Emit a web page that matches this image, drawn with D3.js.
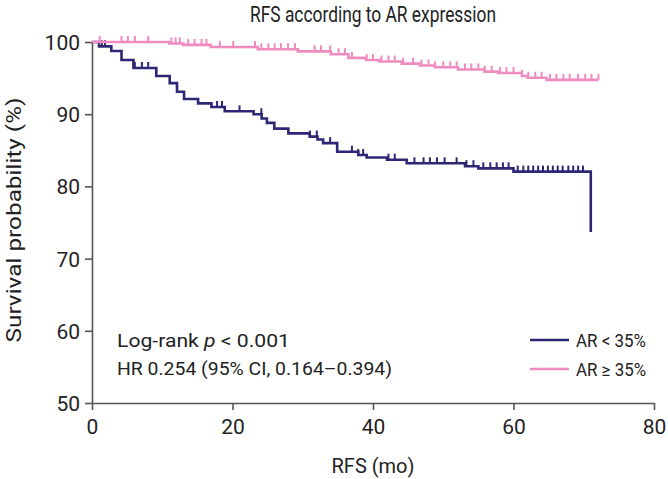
<!DOCTYPE html>
<html><head><meta charset="utf-8">
<script src="https://cdn.jsdelivr.net/npm/d3@7"></script>
<style>body{margin:0;background:#fff}svg text{font-family:"Roboto",sans-serif;fill:#222}</style>
</head><body><svg id="c" width="668" height="479"></svg>
<script>
// ---- data ----
const xTicks = [0, 20, 40, 60, 80];
const yTicks = [50, 60, 70, 80, 90, 100];
const seriesNames = ["AR < 35%", "AR \u2265 35%"];
const seriesColors = ["#2d2875", "#ef8cbf"];
// AR < 35% : step times (mo) and survival (%)
const lowTimes = [0, 1.0, 2.75, 4.2, 5.9, 9.15, 11.06, 12.1, 13.1, 15.1, 17.0, 18.9, 23.0, 24.15, 24.9, 25.95, 27.95, 31.0, 32.1, 32.9, 34.9, 37.9, 39.1, 42.0, 44.8, 53.1, 55.0, 60.0, 71.0];
const lowSurv  = [100, 99.4, 98.75, 97.5, 96.4, 95.3, 94.3, 93.1, 92.1, 91.5, 91.0, 90.4, 90.0, 89.4, 88.8, 88.0, 87.35, 86.9, 86.5, 86.0, 84.8, 84.35, 84.0, 83.7, 83.2, 82.8, 82.5, 82.05, 73.7];
const lowCensor = [1.4, 1.85, 6.1, 7.1, 8.0, 17.8, 18.5, 21.0, 24.1, 31.0, 32.0, 33.9, 37.0, 37.9, 38.6, 42.2, 43.1, 45.9, 47.2, 48.1, 49.1, 50.2, 51.9, 53.3, 54.3, 55.7, 56.7, 57.6, 58.5, 59.3, 60.6, 61.4, 62.1, 62.8, 63.5, 64.2, 64.9, 65.6, 66.3, 67.0, 67.8, 68.5, 69.2, 69.9];
// AR >= 35%
const highTimes = [0, 11.0, 13.0, 16.9, 23.6, 29.3, 34.0, 36.5, 39.0, 40.9, 44.1, 46.7, 48.8, 52.1, 55.9, 57.8, 61.2, 62.0, 64.7, 72.1];
const highSurv  = [100, 99.8, 99.6, 99.3, 99.0, 98.7, 98.3, 97.8, 97.5, 97.3, 97.0, 96.75, 96.5, 96.2, 95.9, 95.7, 95.3, 95.05, 94.75, 94.75];
const highCensor = [1.1, 4.2, 5.1, 6.1, 8.0, 11.3, 11.9, 12.5, 13.7, 14.6, 15.6, 16.3, 18.2, 20.1, 23.2, 24.1, 25.1, 26.0, 26.9, 27.9, 28.9, 31.7, 32.6, 33.9, 35.1, 36.0, 37.0, 39.1, 40.0, 41.2, 42.2, 43.1, 44.3, 45.7, 46.9, 47.9, 48.8, 50.0, 51.0, 51.9, 53.1, 54.0, 55.0, 55.9, 56.9, 58.1, 59.0, 60.0, 61.2, 62.1, 63.1, 64.0, 65.2, 66.1, 67.1, 68.0, 69.2, 70.2, 71.1, 72.1];

// ---- drawing ----
const svg = d3.select("#c");
const x = d3.scaleLinear().domain([0, 80]).range([92, 654]);
const y = d3.scaleLinear().domain([50, 100]).range([403, 42]);
const axisColor = "#555";

const gx = svg.append("g").attr("transform", `translate(0,${y(50)})`)
  .call(d3.axisBottom(x).tickValues(xTicks).tickSize(7).tickPadding(9).tickSizeOuter(0));
const gy = svg.append("g").attr("transform", `translate(${x(0)},0)`)
  .call(d3.axisLeft(y).tickValues(yTicks).tickSize(7).tickPadding(5).tickSizeOuter(0));
[gx, gy].forEach(g => {
  g.select(".domain").attr("stroke", axisColor).attr("stroke-width", 1.6);
  g.selectAll(".tick line").attr("stroke", axisColor).attr("stroke-width", 1.6);
  g.selectAll(".tick text").attr("font-size", 21).attr("fill", "#222")
    .style("font-family", '"Roboto",sans-serif');
});
gy.selectAll(".tick text").attr("dy", "0.36em");

const series = [
  {t: lowTimes, s: lowSurv, c: lowCensor, color: seriesColors[0]},
  {t: highTimes, s: highSurv, c: highCensor, color: seriesColors[1]}
];
const line = d3.line().x(d => x(d[0])).y(d => y(d[1])).curve(d3.curveStepAfter);
series.forEach(se => {
  const pts = se.t.map((t, i) => [t, se.s[i]]);
  svg.append("path").attr("d", line(pts)).attr("fill", "none")
    .attr("stroke", se.color).attr("stroke-width", 2.6);
  const survAt = t => { let v = se.s[0]; for (let i = 0; i < se.t.length; i++) { if (se.t[i] <= t) v = se.s[i]; } return v; };
  svg.append("g").selectAll("line").data(se.c).join("line")
    .attr("x1", d => x(d)).attr("x2", d => x(d))
    .attr("y1", d => y(survAt(d))).attr("y2", d => y(survAt(d)) - 6)
    .attr("stroke", se.color).attr("stroke-width", 2);
});

// title & axis titles
svg.append("text").attr("x", 373).attr("y", 22).attr("text-anchor", "middle")
  .attr("font-size", 22).attr("textLength", 246).attr("lengthAdjust", "spacingAndGlyphs")
  .text("RFS according to AR expression");
svg.append("text").attr("x", 373).attr("y", 473).attr("text-anchor", "middle")
  .attr("font-size", 20).text("RFS (mo)");
svg.append("text").attr("transform", "translate(21,220) rotate(-90)").attr("text-anchor", "middle")
  .attr("font-size", 21).attr("textLength", 245).attr("lengthAdjust", "spacingAndGlyphs")
  .text("Survival probability (%)");

// annotation
const ann = svg.append("text").attr("x", 117).attr("y", 347).attr("font-size", 19)
  .attr("textLength", 173).attr("lengthAdjust", "spacingAndGlyphs");
ann.append("tspan").text("Log-rank ");
ann.append("tspan").attr("font-style", "italic").text("p");
ann.append("tspan").text(" < 0.001");
svg.append("text").attr("x", 117).attr("y", 375).attr("font-size", 18.5)
  .attr("textLength", 275).attr("lengthAdjust", "spacingAndGlyphs")
  .text("HR 0.254 (95% CI, 0.164\u20130.394)");

// legend
seriesNames.forEach((n, i) => {
  const ly = 340 + i * 29;
  svg.append("line").attr("x1", 530).attr("x2", 569).attr("y1", ly).attr("y2", ly)
    .attr("stroke", seriesColors[i]).attr("stroke-width", 2.6);
  svg.append("text").attr("x", 576).attr("y", ly + 6.5).attr("font-size", 18)
    .attr("textLength", 70).attr("lengthAdjust", "spacingAndGlyphs").text(n);
});
</script></body></html>
